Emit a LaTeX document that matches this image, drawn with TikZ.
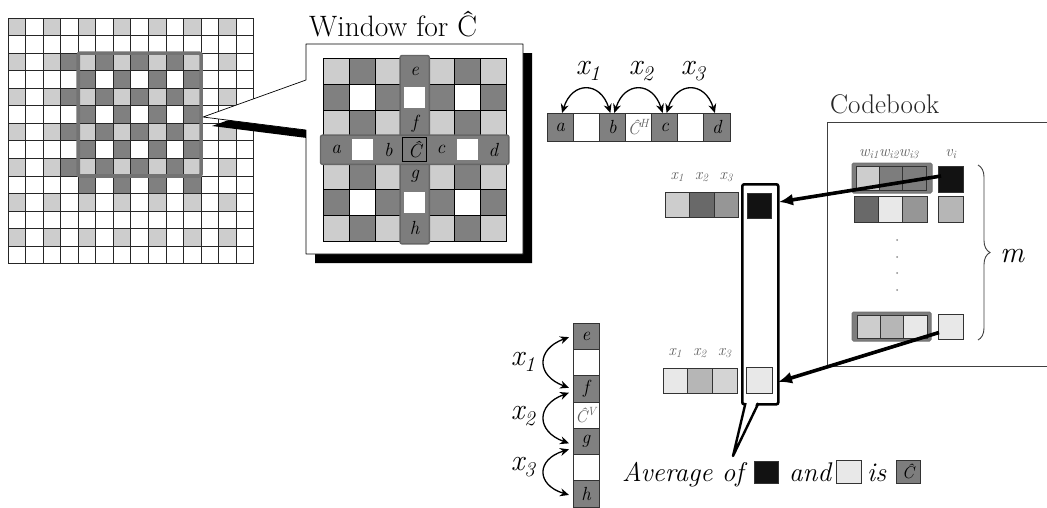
\documentclass[tikz,border=0pt]{standalone}
\usepackage{fontspec}
\usetikzlibrary{arrows.meta,calc,decorations.pathreplacing}
\definecolor{lg}{RGB}{205,205,205}
\definecolor{dg}{RGB}{128,128,128}
\definecolor{sg}{RGB}{125,125,125}
\definecolor{vl}{RGB}{232,232,232}
\definecolor{mg}{RGB}{150,150,150}
\definecolor{ml}{RGB}{182,182,182}
\definecolor{dk}{RGB}{105,105,105}
\definecolor{bk}{RGB}{18,18,18}
\definecolor{lbl}{RGB}{95,95,95}
\newcommand\fs[1]{\fontsize{#1}{#1}\selectfont}
\tikzset{
  gcell/.style={rectangle,draw=black!85,line width=0.9pt,inner sep=0pt,outer sep=0pt,minimum size=17.55pt,anchor=north west},
  wcell/.style={rectangle,draw=black,line width=0.8pt,inner sep=0pt,outer sep=0pt,minimum size=26.2pt,anchor=north west},
  scell/.style={rectangle,draw=black!80,line width=0.8pt,inner sep=0pt,outer sep=0pt,anchor=north west},
  lett/.style={font=\fs{19}\itshape},
  xlab/.style={font=\fs{30}\itshape,inner sep=0pt},
  slab/.style={font=\fs{16}\itshape,text=lbl,inner sep=0pt},
  arc/.style={line width=1.3pt,{Stealth[length=9pt,width=8pt]}-{Stealth[length=9pt,width=8pt]}},
  fat/.style={line width=3.6pt,-{Latex[length=14pt,width=12pt]}},
}
\begin{document}
\begin{tikzpicture}[x=1pt,y=-1pt]
\useasboundingbox[fill=white] (0,0) rectangle (1047,507);
% ---------- left grid
\foreach \r in {0,...,13}{\foreach \c in {0,...,13}{
  \pgfmathtruncatemacro\ee{(mod(\r,2)==0)&&(mod(\c,2)==0)}
  \pgfmathtruncatemacro\dd{(\r>1)&&(\r<10)&&(\c>2)&&(\c<11)&&(mod(\r+\c,2)==1)}
  \def\fc{white}
  \ifnum\ee=1 \def\fc{lg}\fi
  \ifnum\dd=1 \def\fc{dg}\fi
  \node[gcell,fill=\fc] (L-\r-\c) at ({8+\c*17.55},{18+\r*17.55}) {};
}}
\draw[line width=3.6pt,color=black!55,rounded corners=2pt] (L-2-4.north west) rectangle (L-8-10.south east);
% ---------- callout (shadow + white)
\fill[black] (315,89) -- (212,126) -- (315,139) -- (315,263) -- (532,263) -- (532,53) -- (315,53) -- cycle;
\filldraw[fill=white,draw=black,line width=0.7pt,line join=round] (306,80) -- (203,117) -- (306,130) -- (306,254) -- (523,254) -- (523,44) -- (306,44) -- cycle;
\node[anchor=base west,font=\fs{29.5},inner sep=0pt] (title) at (309,36) {Window for Ĉ};
% ---------- window grid
\foreach \r in {0,...,6}{\foreach \c in {0,...,6}{
  \pgfmathtruncatemacro\ee{(mod(\r,2)==0)&&(mod(\c,2)==0)}
  \pgfmathtruncatemacro\dd{mod(\r+\c,2)==1}
  \def\fc{white}
  \ifnum\ee=1 \def\fc{lg}\fi
  \ifnum\dd=1 \def\fc{dg}\fi
  \node[wcell,fill=\fc] (W-\r-\c) at ({323+\c*26.2},{58+\r*26.2}) {};
}}
\filldraw[fill=sg,draw=black!60,line width=1.4pt,rounded corners=2pt] ($(W-0-3.north west)+(-1.5,-2.5)$) rectangle ($(W-6-3.south east)+(1.5,2.5)$);
\filldraw[fill=sg,draw=black!60,line width=1.4pt,rounded corners=2pt] ($(W-3-0.north west)+(-2.5,-1.5)$) rectangle ($(W-3-6.south east)+(2.5,1.5)$);
\foreach \p in {1-3,5-3,3-1,3-5}{
  \fill[white] ($(W-\p.north west)+(2.5,2.5)$) rectangle ($(W-\p.south east)+(-2.5,-2.5)$);
}
\node[draw=black,line width=1pt,fill=sg,minimum size=24pt,inner sep=0pt,lett] (Chat) at (W-3-3) {Ĉ};
\node[lett] at (W-0-3) {e};
\node[lett] at (W-2-3) {f};
\node[lett] at (W-4-3) {g};
\node[lett] at (W-6-3) {h};
\node[lett] at (W-3-0) {a};
\node[lett] at (W-3-2) {b};
\node[lett] at (W-3-4) {c};
\node[lett] at (W-3-6) {d};
% ---------- horizontal strip
\foreach \i/\f/\t in {0/dg/a,1/white/,2/dg/b,3/white/,4/dg/c,5/white/,6/dg/d}{
  \node[scell,fill=\f,minimum width=26.14pt,minimum height=28pt,lett] (T-\i) at ({547+\i*26.14},113) {\t};
}
\node[font=\fs{17}\itshape,text=lbl] at (T-3) {Ĉ\textsuperscript{H}};
\draw[arc] ($(T-0.north)+(2,0)$) .. controls +(10,-32) and +(-10,-32) .. ($(T-2.north)+(-2,0)$);
\draw[arc] ($(T-2.north)+(2,0)$) .. controls +(10,-32) and +(-10,-32) .. ($(T-4.north)+(-2,0)$);
\draw[arc] ($(T-4.north)+(2,0)$) .. controls +(10,-32) and +(-10,-32) .. ($(T-6.north)+(-2,0)$);
\node[xlab] (hx1) at (588,71) {x\textsubscript{1}};
\node[xlab] (hx2) at (641,71) {x\textsubscript{2}};
\node[xlab] (hx3) at (693,71) {x\textsubscript{3}};
% ---------- codebook
\node[anchor=base west,font=\fs{27},text=black!85,inner sep=0pt] (cbt) at (830,113) {Codebook};
\draw[line width=0.8pt,black!75] (1047,122) -- (827,122) -- (827,366) -- (1047,366);
\node[slab] (wh) at (889,154) {w\textsubscript{i1}w\textsubscript{i2}w\textsubscript{i3}};
\node[slab] (vh) at (951,154) {v\textsubscript{i}};
\filldraw[fill=sg,draw=black!55,line width=1pt,rounded corners=1.5pt] (852,163) rectangle (932,193);
\foreach \i/\f in {0/lg,1/sg,2/sg}{
  \node[scell,fill=\f,minimum width=23.3pt,minimum height=24pt] (A-\i) at ({856+\i*23.3},166) {};
}
\node[scell,fill=bk,minimum width=25pt,minimum height=26pt] (V1) at (938,166) {};
\foreach \i/\f in {0/dk,1/vl,2/mg}{
  \node[scell,fill=\f,minimum width=24.3pt,minimum height=26pt] (B-\i) at ({854+\i*24.3},196) {};
}
\node[scell,fill=ml,minimum width=25pt,minimum height=26pt] (V2) at (938,196) {};
\foreach \y in {240,257,273,290}{\fill[black!45] (897,\y) circle (1pt);}
\filldraw[fill=sg,draw=black!55,line width=1pt,rounded corners=1.5pt] (852,312) rectangle (931,341);
\foreach \i/\f in {0/lg,1/ml,2/vl}{
  \node[scell,fill=\f,minimum width=23.3pt,minimum height=23pt] (D-\i) at ({857+\i*23.3},315) {};
}
\node[scell,fill=vl,minimum width=25pt,minimum height=25pt] (V3) at (938,314) {};
\draw[decorate,decoration={brace,amplitude=12pt},line width=0.9pt,black!75] (978,165) -- (978,340);
\node[font=\fs{30}\itshape,inner sep=0pt] (m) at (1012,256) {m};
% ---------- middle rows
\foreach \i/\f in {0/lg,1/dk,2/mg}{
  \node[scell,fill=\f,minimum width=24.5pt,minimum height=25pt] (M-\i) at ({665+\i*24.5},192) {};
}
\foreach \i in {1,2,3}{\pgfmathtruncatemacro\j{\i-1}
  \node[slab] at ($(M-\j.north)+(0,-15)$) {x\textsubscript{\i}};}
\foreach \i/\f in {0/vl,1/ml,2/lg!85!white}{
  \node[scell,fill=\f,minimum width=24.7pt,minimum height=25pt] (N-\i) at ({663+\i*24.7},368) {};
}
\foreach \i in {1,2,3}{\pgfmathtruncatemacro\j{\i-1}
  \node[slab] at ($(N-\j.north)+(0,-15)$) {x\textsubscript{\i}};}
\node[draw=black,line width=2.6pt,rounded corners=2pt,fill=white,minimum width=36pt,minimum height=220pt,anchor=north west,inner sep=0pt] (tall) at (741,183) {};
\fill[white] (746.5,400.5) -- (757.5,400.5) -- (733,456) -- cycle;
\draw[line width=2.4pt,line join=round] (745.5,403) -- (733,456) -- (758.5,403);
\node[scell,fill=bk,minimum width=24pt,minimum height=25pt] (K1) at (747,193) {};
\node[scell,fill=vl,minimum width=26pt,minimum height=26pt] (K2) at (746,367) {};
\coordinate (tip1) at (779,202);
\coordinate (tip2) at (778,382);
\draw[fat] ($(V1.west)+(3,-3)$) -- (tip1);
\draw[fat] ($(V3.west)+(1,6)$) -- (tip2);
% ---------- vertical strip
\foreach \i/\f/\t in {0/dg/e,1/white/,2/dg/f,3/white/,4/dg/g,5/white/,6/dg/h}{
  \node[scell,fill=\f,minimum width=26pt,minimum height=26.3pt,lett] (E-\i) at (573,{323+\i*26.3}) {\t};
}
\node[font=\fs{17}\itshape,text=lbl] at (E-3) {Ĉ\textsuperscript{V}};
\draw[arc] ($(E-0.west)+(-4,1)$) .. controls +(-33,12) and +(-33,-12) .. ($(E-2.west)+(-4,-1)$);
\draw[arc] ($(E-2.west)+(-4,4)$) .. controls +(-33,12) and +(-33,-12) .. ($(E-4.west)+(-4,2)$);
\draw[arc] ($(E-4.west)+(-4,8)$) .. controls +(-33,10) and +(-33,-10) .. ($(E-6.west)+(-4,1)$);
\node[xlab] (vx1) at (523,362) {x\textsubscript{1}};
\node[xlab] (vx2) at (523,416) {x\textsubscript{2}};
\node[xlab] (vx3) at (523,467) {x\textsubscript{3}};
% ---------- caption
\node[anchor=base west,font=\fs{27}\itshape,inner sep=0pt] (avg) at (622,481) {Average of};
\node[scell,fill=bk,minimum width=24pt,minimum height=22pt,anchor=south west] (sq1) at (754,483) {};
\node[anchor=base west,font=\fs{27}\itshape,inner sep=0pt] (and) at (789,481) {and};
\node[scell,fill=vl,minimum width=25pt,minimum height=23pt,anchor=south west] (sq2) at (836,483) {};
\node[anchor=base west,font=\fs{27}\itshape,inner sep=0pt] (is) at (867,481) {is};
\node[scell,fill=sg,minimum width=24pt,minimum height=23pt,anchor=south west,font=\fs{17}\itshape] (sq3) at (896,483) {Ĉ};
\end{tikzpicture}
\end{document}
